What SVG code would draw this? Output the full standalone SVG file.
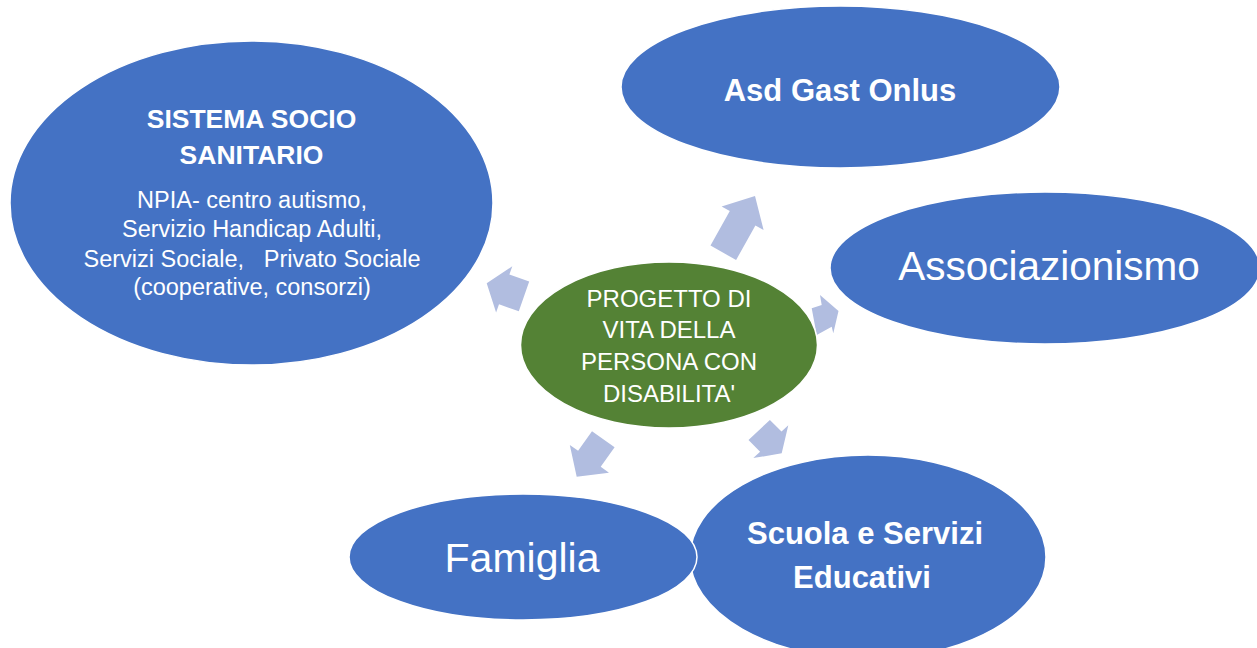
<svg xmlns="http://www.w3.org/2000/svg" width="1257" height="648" viewBox="0 0 1257 648">
  <style>
    .node { fill: #4472C4; stroke: #FFFFFF; stroke-width: 1.5; }
    .center { fill: #548235; stroke: #FFFFFF; stroke-width: 1.5; }
    .arrow { fill: #B1BDE0; stroke: none; }
    text { font-family: "Liberation Sans", Arial, sans-serif; fill: #FFFFFF; text-anchor: middle; }
    .b { font-weight: bold; }
  </style>
  <rect width="1257" height="648" fill="#FFFFFF"/>
  <g id="connectors">
    <polygon class="arrow" points="710.5,245.6 729.8,211.1 721.6,206.6 755,196 763.6,230 755.4,225.5 736.1,260"/>
    <polygon class="arrow" points="529.2,281.4 509.4,274.5 512.3,266.3 486.7,283.3 496.1,312.5 499,304.3 518.8,311.2"/>
    <polygon class="arrow" points="811.7,308.3 821.7,305 820,295 838.5,311 833.3,333.3 831.7,326.7 816.7,335"/>
    <polygon class="arrow" points="592,431.2 578.1,450.8 569.8,444.9 576.7,476.7 609,472.7 600.7,466.8 614.6,447.2"/>
    <polygon class="arrow" points="769.9,419.9 781.5,431.6 788.3,425.3 781.7,453.3 753.3,458.1 760.1,451.8 748.5,440.1"/>
  </g>
  <g id="center">
    <ellipse class="center" cx="669" cy="345" rx="148.5" ry="83"/>
    <text font-size="24" x="669" y="306.5">PROGETTO DI</text>
    <text font-size="24" x="669" y="338.3">VITA DELLA</text>
    <text font-size="24" x="669" y="370">PERSONA CON</text>
    <text font-size="24" x="669" y="401.7">DISABILITA'</text>
  </g>
  <g id="asd-gast">
    <ellipse class="node" cx="840.5" cy="87" rx="219.5" ry="81"/>
    <text class="b" font-size="31" x="840" y="101">Asd Gast Onlus</text>
  </g>
  <g id="associazionismo">
    <ellipse class="node" cx="1045" cy="268" rx="215" ry="76"/>
    <text font-size="40.5" x="1049" y="280">Associazionismo</text>
  </g>
  <g id="scuola">
    <ellipse class="node" cx="868" cy="557" rx="178" ry="102"/>
    <text class="b" font-size="31" x="865" y="544">Scuola e Servizi</text>
    <text class="b" font-size="31" x="862" y="588">Educativi</text>
  </g>
  <g id="famiglia">
    <ellipse class="node" cx="523" cy="557" rx="174" ry="63"/>
    <text font-size="41" x="522" y="571.5">Famiglia</text>
  </g>
  <g id="sistema">
    <ellipse class="node" cx="251.5" cy="203" rx="241.5" ry="162"/>
    <text class="b" font-size="26.5" x="251.5" y="128">SISTEMA SOCIO</text>
    <text class="b" font-size="26.5" x="251.5" y="164">SANITARIO</text>
    <text font-size="23.5" x="252" y="208">NPIA- centro autismo,</text>
    <text font-size="23.5" x="252" y="237">Servizio Handicap Adulti,</text>
    <text font-size="23.5" x="252" y="266.5" xml:space="preserve">Servizi Sociale,   Privato Sociale</text>
    <text font-size="23.5" x="252" y="295">(cooperative, consorzi)</text>
  </g>
</svg>
